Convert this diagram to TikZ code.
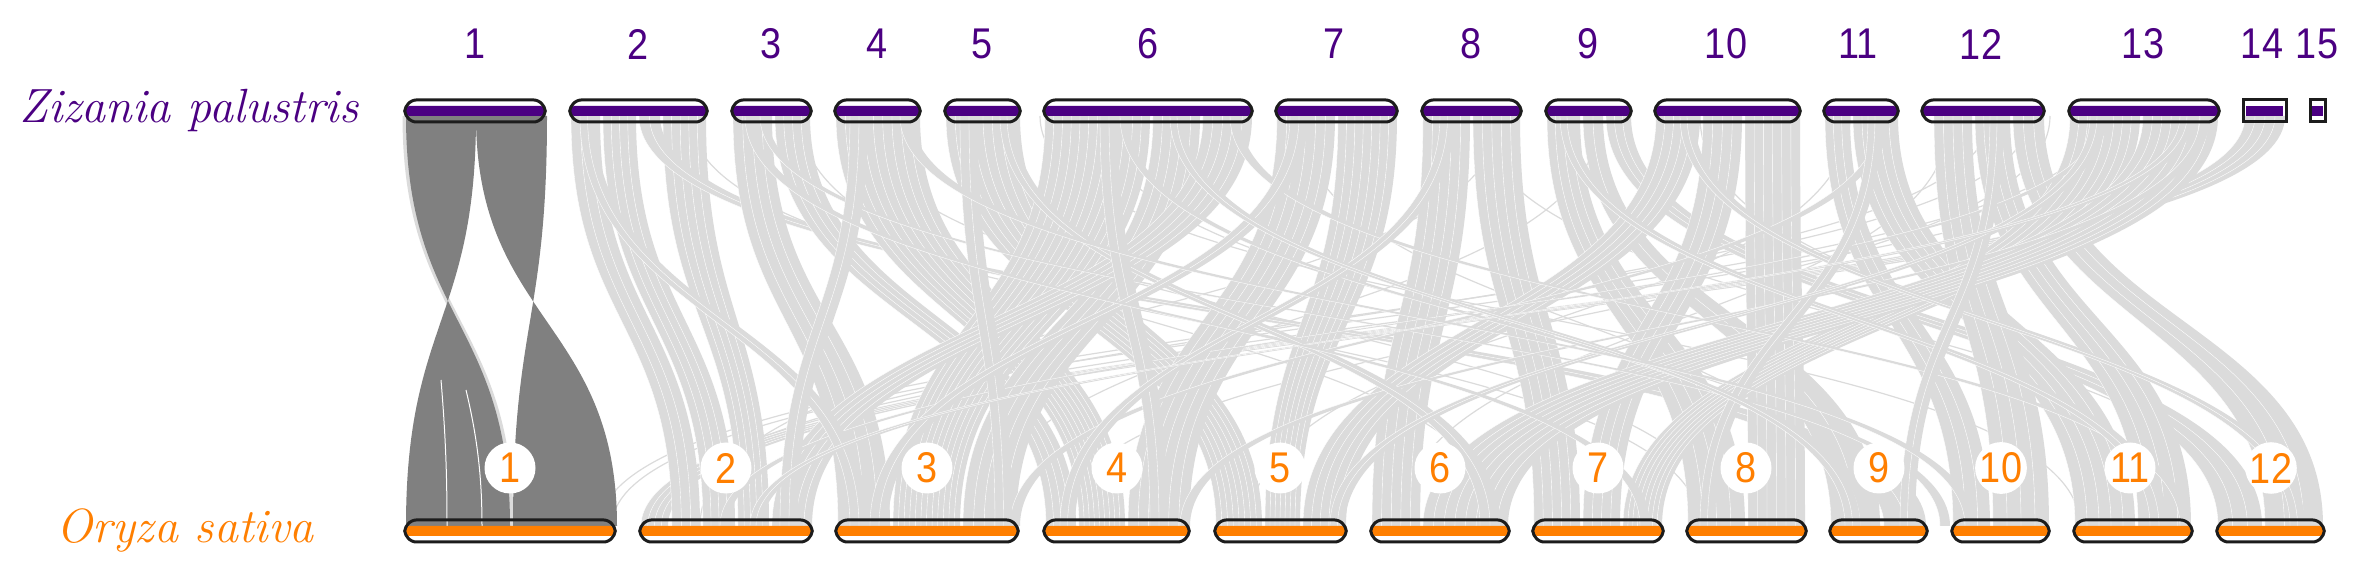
\documentclass[tikz,border=0pt]{standalone}
\usepackage{fontspec}
\newfontfamily\numfont[FakeStretch=0.88]{Liberation Sans}
\definecolor{zpc}{RGB}{75,0,130}
\definecolor{osc}{RGB}{255,127,0}
\definecolor{lkc}{RGB}{219,219,219}
\definecolor{dkc}{RGB}{128,128,128}
\definecolor{olc}{RGB}{28,28,28}
\newcommand\synrib[4]{%
 \pgfmathtruncatemacro\rbn{max(1,round(abs(#2-#1)/9))}%
 \foreach \rbk in {1,...,\rbn}{%
  \pgfmathsetmacro\rta{#1+(#2-#1)*(\rbk-1)/\rbn}%
  \pgfmathsetmacro\rtb{#1+(#2-#1)*\rbk/\rbn}%
  \pgfmathsetmacro\rba{#3+(#4-#3)*(\rbk-1)/\rbn}%
  \pgfmathsetmacro\rbb{#3+(#4-#3)*\rbk/\rbn}%
  \fill[lkc] (\rta,116) .. controls (\rta,321) and (\rba,321) .. (\rba,526) -- (\rbb,526) .. controls (\rbb,321) and (\rtb,321) .. (\rtb,116) -- cycle;
  \draw[white,line width=0.18pt] (\rta,116) .. controls (\rta,321) and (\rba,321) .. (\rba,526);
 }}
\newcommand\darkrib[4]{%
  \fill[dkc] (#1,116) .. controls (#1,321) and (#3,321) .. (#3,526) -- (#4,526) .. controls (#4,321) and (#2,321) .. (#2,116) -- cycle;}
\newcommand\thinlink[3][0.6pt]{%
  \draw[lkc,line width=#1] (#2,116) .. controls (#2,321) and (#3,321) .. (#3,526);}
\newcommand\chrom[4]{%
 \fill[#4,rounded corners=1pt] (#1+4,#3-5) -- (#2-4,#3-5) -- (#2-1.5,#3) -- (#2-4,#3+5) -- (#1+4,#3+5) -- (#1+1.5,#3) -- cycle;
 \draw[olc,line width=1.5pt,rounded corners=2.5pt] (#1+8,#3-11) -- (#2-8,#3-11) -- (#2,#3) -- (#2-8,#3+11) -- (#1+8,#3+11) -- (#1,#3) -- cycle;}
\begin{document}
\begin{tikzpicture}[x=0.5pt,y=-0.5pt,
  tlab/.style={text=zpc,font=\numfont\fontsize{21.5}{22}\selectfont,inner sep=0pt},
  blab/.style={circle,fill=white,minimum size=25.5pt,inner sep=0pt,text=osc,font=\numfont\fontsize{21.5}{22}\selectfont},
  sp/.style={anchor=base,font=\fontsize{24}{28}\selectfont\itshape,inner sep=0pt}]
\fill[white] (0,0) rectangle (2373,587);
\useasboundingbox (0,0) rectangle (2373,587);
% thin long links
\thinlink{2100}{612}
\thinlink{2160}{645}
\thinlink{1990}{660}
\thinlink{2030}{600}
\thinlink{690}{1700}
\thinlink{800}{1500}
\thinlink{1480}{2240}
\thinlink{1600}{980}
\thinlink{1300}{1850}
\thinlink{1850}{1250}
\thinlink{1950}{1400}
\thinlink{1100}{1900}
\thinlink{1700}{2300}
\thinlink{860}{1720}
\thinlink{1500}{700}
\thinlink{2050}{1060}
\thinlink{1040}{2080}
\thinlink[2.5pt]{405}{511}
% light synteny ribbons
\synrib{2245}{2285}{641}{668}
\synrib{571}{600}{672}{700}
\synrib{603}{636}{703}{735}
\synrib{663}{706}{738}{769}
\synrib{639}{660}{1884}{1926}
\synrib{733}{772}{838}{890}
\synrib{775}{810}{1046}{1076}
\synrib{836}{920}{1079}{1125}
\synrib{946}{1020}{1216}{1262}
\synrib{1045}{1150}{893}{960}
\synrib{1153}{1200}{963}{1016}
\synrib{1203}{1252}{772}{812}
\synrib{1277}{1335}{1128}{1189}
\synrib{1338}{1397}{1265}{1300}
\synrib{1423}{1470}{1372}{1420}
\synrib{1473}{1520}{1534}{1580}
\synrib{1547}{1580}{1688}{1745}
\synrib{1583}{1603}{1831}{1880}
\synrib{1606}{1631}{2218}{2262}
\synrib{1656}{1700}{1303}{1346}
\synrib{1703}{1742}{1583}{1620}
\synrib{1745}{1800}{1748}{1805}
\synrib{1825}{1850}{1953}{1990}
\synrib{1853}{1898}{2075}{2135}
\synrib{1934}{1972}{1993}{2049}
\synrib{1975}{2010}{2138}{2191}
\synrib{2013}{2044}{2265}{2323}
\synrib{2070}{2140}{1623}{1662}
\synrib{2143}{2218}{1423}{1508}
% secondary crossing ribbons
\synrib{760}{768}{1940}{1950}
\synrib{1230}{1240}{2180}{2190}
\synrib{1880}{1890}{1010}{1020}
\synrib{2200}{2210}{1180}{1190}
\synrib{1120}{1128}{1860}{1870}
\synrib{2100}{2108}{720}{728}
\synrib{580}{595}{850}{868}
\synrib{850}{868}{780}{798}
\synrib{960}{978}{995}{1012}
\synrib{1000}{1014}{1480}{1500}
\synrib{1100}{1118}{1150}{1168}
\synrib{1290}{1308}{870}{888}
\synrib{1440}{1455}{1060}{1075}
\synrib{1560}{1574}{2150}{2168}
\synrib{1680}{1694}{2290}{2305}
\synrib{1868}{1882}{1700}{1715}
\synrib{1990}{2004}{1900}{1915}
\synrib{2090}{2104}{1330}{1345}
\synrib{2180}{2194}{750}{762}
\synrib{1170}{1184}{1845}{1860}
\synrib{745}{755}{1640}{1650}
\synrib{900}{912}{1965}{1975}
% dark chr1 ribbons
\darkrib{406}{476}{510}{406}
\darkrib{476}{547}{617}{513}
\draw[white,line width=0.5pt] (441,380) .. controls (446,440) and (447,480) .. (447,526);
\draw[white,line width=0.5pt] (466,390) .. controls (478,440) and (482,480) .. (482,526);
% bottom label discs
\foreach \n/\x in {1/510,2/726,3/927,4/1117,5/1280,6/1440,7/1598,8/1746,9/1879,10/2001,11/2130,12/2271}
  \node[blab] (o\n) at (\x,468) {\n};
% chromosome bars
\chrom{403}{547}{111}{zpc}
\chrom{568}{709}{111}{zpc}
\chrom{730}{813}{111}{zpc}
\chrom{833}{922}{111}{zpc}
\chrom{943}{1022}{111}{zpc}
\chrom{1042}{1254}{111}{zpc}
\chrom{1274}{1399}{111}{zpc}
\chrom{1420}{1523}{111}{zpc}
\chrom{1544}{1633}{111}{zpc}
\chrom{1653}{1802}{111}{zpc}
\chrom{1822}{1900}{111}{zpc}
\chrom{1920}{2046}{111}{zpc}
\chrom{2067}{2221}{111}{zpc}
\fill[zpc] (2246,106) rectangle (2283,116);
\draw[olc,line width=1.5pt] (2243,100) rectangle (2286,122);
\fill[zpc] (2312,106) rectangle (2323,116);
\draw[olc,line width=1.5pt] (2310,100) rectangle (2325,122);
\chrom{403}{617}{531}{osc}
\chrom{638}{814}{531}{osc}
\chrom{834}{1020}{531}{osc}
\chrom{1042}{1191}{531}{osc}
\chrom{1213}{1348}{531}{osc}
\chrom{1369}{1511}{531}{osc}
\chrom{1531}{1665}{531}{osc}
\chrom{1685}{1808}{531}{osc}
\chrom{1828}{1929}{531}{osc}
\chrom{1950}{2051}{531}{osc}
\chrom{2072}{2194}{531}{osc}
\chrom{2215}{2326}{531}{osc}
% top labels
\foreach \n/\x in {1/475,2/638,3/771,4/877,5/982,6/1148,7/1334,8/1471,9/1588,10/1726,11/1858,12/1981,13/2143,14/2262,15/2317}
  \node[tlab] (z\n) at (\x,44) {\n};
% species
\node[sp,text=zpc] (zp) at (189,123) {Zizania palustris};
\node[sp,text=osc] (os) at (185,543) {Oryza sativa};
\end{tikzpicture}
\end{document}
